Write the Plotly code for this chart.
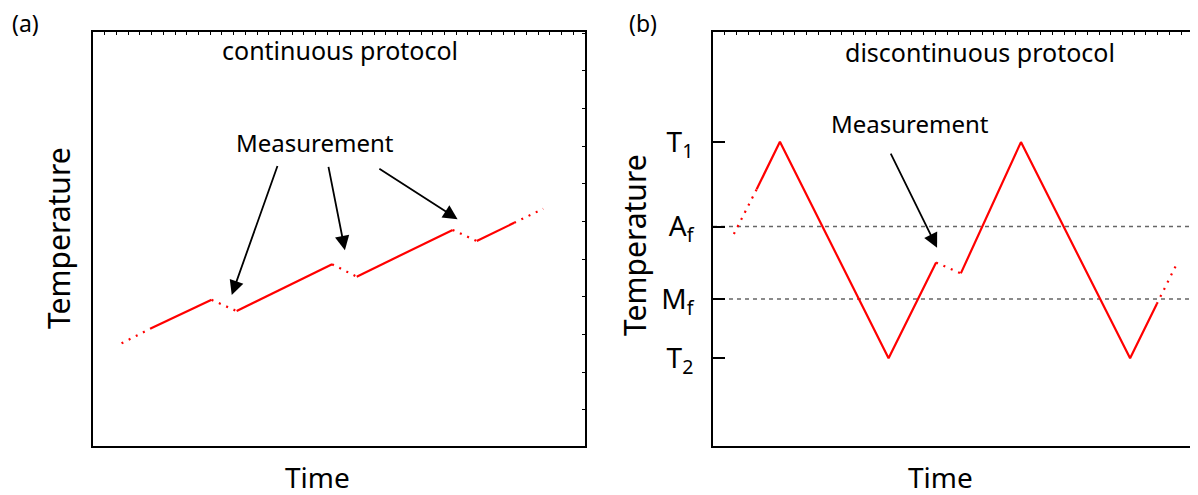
import plotly.graph_objects as go

# ---------------- data ----------------
# Panel (a): continuous protocol (time, temperature in arbitrary units 0-100)
a_solid_t = [11.6, 24.1, None, 29.2, 48.6, None, 53.6, 73.1, None, 78.0, 85.6]
a_solid_T = [28.3, 35.3, None, 32.6, 43.9, None, 40.9, 52.2, None, 49.5, 53.9]
a_dot_t = [5.8, 11.6, None, 24.1, 29.2, None, 48.6, 53.6, None, 73.1, 78.0, None, 85.6, 91.5]
a_dot_T = [24.8, 28.3, None, 35.3, 32.6, None, 43.9, 40.9, None, 52.2, 49.5, None, 53.9, 57.3]
# measurement arrows in (a): tail (t,T) -> tip (t,T)
a_arrow_tail_t = [37.6, 47.8, 57.9]
a_arrow_tail_T = [68.0, 67.8, 67.2]
a_arrow_tip_t = [28.2, 51.2, 74.1]
a_arrow_tip_T = [36.5, 47.3, 54.8]

# Panel (b): discontinuous protocol
b_solid_t = [9.0, 13.8, 36.2, 46.0, None, 51.1, 63.5, 86.0, 91.5]
b_solid_T = [62.0, 73.5, 21.2, 44.3, None, 41.7, 73.4, 21.2, 34.3]
b_dot_t = [4.3, 9.0, None, 46.0, 51.1, None, 91.5, 95.5]
b_dot_T = [51.2, 62.0, None, 44.3, 41.7, None, 34.3, 43.7]
b_arrow_tail = (36.5, 71.0)
b_arrow_tip = (46.2, 47.9)

# characteristic temperatures (b)
tick_names = ["T<sub>1</sub>", "A<sub>f</sub>", "M<sub>f</sub>", "T<sub>2</sub>"]
tick_vals = [73.4, 53.0, 35.5, 21.2]
Af, Mf = 53.0, 35.5

FONT = "Noto Sans"
RED = "#ff0000"

# page body has an 8px margin; lay out in figure pixels
OFF = 8
W, H = 1190, 487


def px(x):
    return (x - OFF) / W


def py(y):
    return 1 - (y - OFF) / H


fig = go.Figure()

# ---- panel (a)
fig.add_trace(go.Scatter(x=a_solid_t, y=a_solid_T, mode="lines",
                         line=dict(color=RED, width=2.2), xaxis="x", yaxis="y",
                         showlegend=False, hoverinfo="skip"))
fig.add_trace(go.Scatter(x=a_dot_t, y=a_dot_T, mode="lines",
                         line=dict(color=RED, width=2.2, dash="2px,6px"), xaxis="x", yaxis="y",
                         showlegend=False, hoverinfo="skip"))
fig.add_trace(go.Scatter(x=[None], y=[None], xaxis="x3", yaxis="y3", showlegend=False))

# ---- panel (b)
fig.add_trace(go.Scatter(x=[0, 100, None, 0, 100], y=[Af, Af, None, Mf, Mf], mode="lines",
                         line=dict(color="#666666", width=1.5, dash="4px,4px"),
                         xaxis="x2", yaxis="y2", showlegend=False, hoverinfo="skip"))
fig.add_trace(go.Scatter(x=b_solid_t, y=b_solid_T, mode="lines",
                         line=dict(color=RED, width=2.2), xaxis="x2", yaxis="y2",
                         showlegend=False, hoverinfo="skip"))
fig.add_trace(go.Scatter(x=b_dot_t, y=b_dot_T, mode="lines",
                         line=dict(color=RED, width=2.2, dash="2px,6px"), xaxis="x2", yaxis="y2",
                         showlegend=False, hoverinfo="skip"))
fig.add_trace(go.Scatter(x=[None], y=[None], xaxis="x4", yaxis="y2", showlegend=False))

ya_dom = [py(446), py(32)]
xa_dom = [px(93), px(585)]
xb_dom = [px(713), 1.0]

frame = dict(showline=True, linecolor="black", linewidth=2, showgrid=False,
             zeroline=False, range=[0, 100])

fig.update_layout(
    width=W, height=H, margin=dict(l=0, r=0, t=0, b=0),
    paper_bgcolor="white", plot_bgcolor="white",
    font=dict(family=FONT, color="black"),
    xaxis=dict(domain=xa_dom, anchor="y", mirror=True, ticks="", showticklabels=False, **frame),
    yaxis=dict(domain=ya_dom, anchor="x", mirror=True, ticks="", showticklabels=False, **frame),
    xaxis3=dict(overlaying="x", side="top", anchor="y", range=[0, 100], showline=False,
                showgrid=False, zeroline=False, showticklabels=False, ticks="inside",
                ticklen=3, tickwidth=1, tickcolor="black", tick0=0, dtick=100 / 42),
    yaxis3=dict(overlaying="y", side="right", anchor="x", range=[0, 100], showline=False,
                showgrid=False, zeroline=False, showticklabels=False, ticks="inside",
                ticklen=3, tickwidth=1, tickcolor="black", tick0=8.7, dtick=9.1),
    xaxis2=dict(domain=xb_dom, anchor="y2", mirror=True, ticks="", showticklabels=False, **frame),
    yaxis2=dict(domain=ya_dom, anchor="x2", mirror=False, ticks="inside", ticklen=12,
                tickwidth=2, tickcolor="black", tickvals=tick_vals, ticktext=tick_names,
                tickfont=dict(size=28, family=FONT), ticklabelstandoff=12, **frame),
    xaxis4=dict(overlaying="x2", side="top", anchor="y2", range=[0, 100], showline=False,
                showgrid=False, zeroline=False, showticklabels=False, ticks="inside",
                ticklen=3, tickwidth=1, tickcolor="black", tick0=0, dtick=100 * 11.7 / 485),
)

ann = []


def paper_text(text, x, y, size, angle=0):
    return dict(text=text, x=px(x), y=py(y), xref="paper", yref="paper",
                xanchor="center", yanchor="middle", showarrow=False,
                textangle=angle, font=dict(size=size))


ann.append(paper_text("(a)", 25, 23, 23))
ann.append(paper_text("(b)", 643, 23, 23))
ann.append(paper_text("Time", 317, 477, 28))
ann.append(paper_text("Time", 940, 477, 28))
ann.append(paper_text("Temperature", 58, 238, 30, -90))
ann.append(paper_text("Temperature", 634, 245, 30, -90))
ann.append(dict(text="continuous protocol", x=50.2, y=95.7, xref="x", yref="y",
                xanchor="center", yanchor="middle", showarrow=False, font=dict(size=25)))
ann.append(dict(text="discontinuous protocol", x=55.0, y=95.2, xref="x2", yref="y2",
                xanchor="center", yanchor="middle", showarrow=False, font=dict(size=25)))
ann.append(dict(text="Measurement", x=45.1, y=73.2, xref="x", yref="y",
                xanchor="center", yanchor="middle", showarrow=False, font=dict(size=24)))
ann.append(dict(text="Measurement", x=40.6, y=77.8, xref="x2", yref="y2",
                xanchor="center", yanchor="middle", showarrow=False, font=dict(size=24)))
for tt, tT, ht, hT in zip(a_arrow_tail_t, a_arrow_tail_T, a_arrow_tip_t, a_arrow_tip_T):
    ann.append(dict(text="", x=ht, y=hT, ax=tt, ay=tT, xref="x", yref="y", axref="x", ayref="y",
                    showarrow=True, arrowhead=2, arrowsize=1.6, arrowwidth=1.8, arrowcolor="black"))
ann.append(dict(text="", x=b_arrow_tip[0], y=b_arrow_tip[1], ax=b_arrow_tail[0], ay=b_arrow_tail[1],
                xref="x2", yref="y2", axref="x2", ayref="y2",
                showarrow=True, arrowhead=2, arrowsize=1.6, arrowwidth=1.8, arrowcolor="black"))
fig.update_layout(annotations=ann)

fig.write_html("out.html")
